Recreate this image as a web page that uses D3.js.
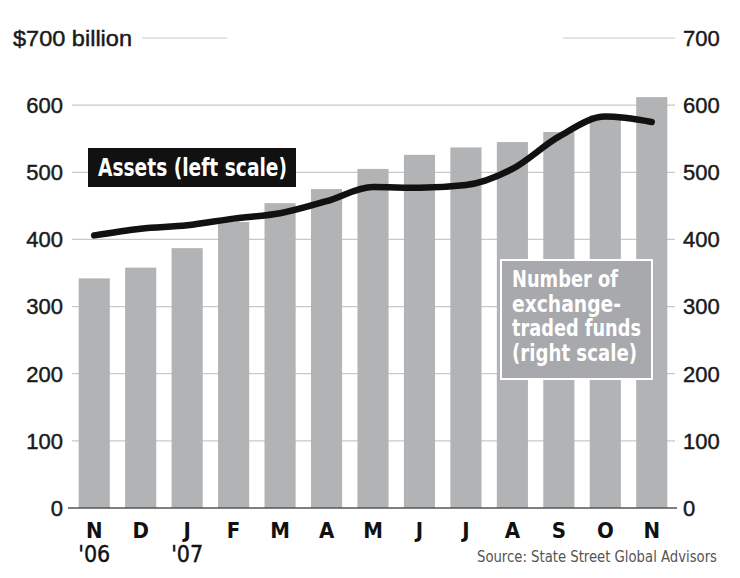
<!DOCTYPE html>
<html>
<head>
<meta charset="utf-8">
<script src="https://cdn.jsdelivr.net/npm/d3@7"></script>
<style>
  body { margin: 0; background: #fff; }
  svg { display: block; }
  .tick-label { font-family: "Liberation Sans", Arial, sans-serif; font-size: 22px; fill: #1a1a1a; stroke: #1a1a1a; stroke-width: 0.45px; }
  .cond { font-family: "Liberation Sans Narrow", "DejaVu Sans Condensed", sans-serif; }
</style>
</head>
<body>
<div id="chart"></div>
<script>
var months = ["N", "D", "J", "F", "M", "A", "M", "J", "J", "A", "S", "O", "N"];
var years = ["'06", "", "'07", "", "", "", "", "", "", "", "", "", ""];
var assets = [342, 358, 387, 426, 454, 475, 505, 526, 537, 545, 560, 585, 612];
var funds = [406, 416, 421, 431, 439, 457, 478, 477, 481, 505, 553, 583, 575];
var leftTicks = [0, 100, 200, 300, 400, 500, 600];
var rightTicks = [0, 100, 200, 300, 400, 500, 600, 700];

var width = 740, height = 578;
var plot = {left: 71, right: 675, top: 38, bottom: 508};

var svg = d3.select("#chart").append("svg")
    .attr("width", width)
    .attr("height", height);

var xScale = d3.scaleBand()
    .domain(d3.range(months.length))
    .range([plot.left, plot.right])
    .paddingInner(0.33)
    .paddingOuter(0.165);

var yLeft = d3.scaleLinear().domain([0, 700]).range([plot.bottom, plot.top]);
var yRight = d3.scaleLinear().domain([0, 700]).range([plot.bottom, plot.top]);

// gridlines
svg.append("g").selectAll("line")
    .data(leftTicks.filter(d => d > 0))
    .enter().append("line")
    .attr("x1", 72).attr("x2", 675)
    .attr("y1", d => yLeft(d)).attr("y2", d => yLeft(d))
    .attr("stroke", "#c9c9c9").attr("stroke-width", 1.2);

// short 700 lines on each side
svg.append("line")
    .attr("x1", 142).attr("x2", 227)
    .attr("y1", yLeft(700)).attr("y2", yLeft(700))
    .attr("stroke", "#c9c9c9").attr("stroke-width", 1.2);
svg.append("line")
    .attr("x1", 563).attr("x2", 675)
    .attr("y1", yRight(700)).attr("y2", yRight(700))
    .attr("stroke", "#c9c9c9").attr("stroke-width", 1.2);

// bars
svg.selectAll(".bar")
    .data(assets)
    .enter().append("rect")
    .attr("class", "bar")
    .attr("x", (d, i) => xScale(i))
    .attr("y", d => yLeft(d))
    .attr("width", xScale.bandwidth())
    .attr("height", d => plot.bottom - yLeft(d))
    .attr("fill", "#b2b3b5");

// zero axis
svg.append("line")
    .attr("x1", 68).attr("x2", 677)
    .attr("y1", yLeft(0)).attr("y2", yLeft(0))
    .attr("stroke", "#555").attr("stroke-width", 1.6);

// funds line
var line = d3.line()
    .x((d, i) => xScale(i) + xScale.bandwidth() / 2)
    .y(d => yRight(d))
    .curve(d3.curveMonotoneX);

svg.append("path")
    .datum(funds)
    .attr("d", line)
    .attr("fill", "none")
    .attr("stroke", "#111")
    .attr("stroke-width", 6.5)
    .attr("stroke-linecap", "round")
    .attr("stroke-linejoin", "round");

// left tick labels
svg.append("g").selectAll("text")
    .data(leftTicks)
    .enter().append("text")
    .attr("class", "tick-label")
    .attr("x", 63)
    .attr("y", d => yLeft(d))
    .attr("dy", "0.36em")
    .attr("text-anchor", "end")
    .text(d => d);

svg.append("text")
    .attr("class", "tick-label")
    .attr("x", 13)
    .attr("y", yLeft(700))
    .attr("dy", "0.36em")
    .attr("textLength", 119)
    .attr("lengthAdjust", "spacingAndGlyphs")
    .text("$700 billion");

// right tick labels
svg.append("g").selectAll("text")
    .data(rightTicks)
    .enter().append("text")
    .attr("class", "tick-label")
    .attr("x", 683)
    .attr("y", d => yRight(d))
    .attr("dy", "0.36em")
    .text(d => d);

// month labels
var xLabels = svg.append("g").selectAll("g")
    .data(months)
    .enter().append("g")
    .attr("transform", (d, i) => `translate(${xScale(i) + xScale.bandwidth() / 2}, 0)`);

xLabels.append("text")
    .attr("class", "cond")
    .attr("y", 538)
    .attr("text-anchor", "middle")
    .attr("font-size", 22)
    .attr("font-weight", "bold")
    .attr("fill", "#111")
    .text(d => d);

xLabels.append("text")
    .attr("class", "cond")
    .attr("y", 562)
    .attr("text-anchor", "middle")
    .attr("font-size", 23)
    .attr("fill", "#111")
    .attr("stroke", "#111")
    .attr("stroke-width", 0.4)
    .text((d, i) => years[i]);

// legend: assets
svg.append("rect")
    .attr("x", 88).attr("y", 148)
    .attr("width", 208).attr("height", 39)
    .attr("fill", "#111");
svg.append("text")
    .attr("class", "cond")
    .attr("x", 98).attr("y", 176)
    .attr("font-size", 25)
    .attr("font-weight", "bold")
    .attr("fill", "#fff")
    .attr("textLength", 189)
    .attr("lengthAdjust", "spacingAndGlyphs")
    .text("Assets (left scale)");

// legend: number of funds
svg.append("rect")
    .attr("x", 501).attr("y", 260)
    .attr("width", 151).attr("height", 119)
    .attr("fill", "#a8a9ac")
    .attr("stroke", "#fff")
    .attr("stroke-width", 2);

var fundLines = ["Number of", "exchange-", "traded funds", "(right scale)"];
var fundWidths = [106, 109, 129, 125];
svg.append("g").selectAll("text")
    .data(fundLines)
    .enter().append("text")
    .attr("class", "cond")
    .attr("x", 512)
    .attr("y", (d, i) => 287 + i * 24.7)
    .attr("font-size", 23)
    .attr("font-weight", "bold")
    .attr("fill", "#fff")
    .attr("textLength", (d, i) => fundWidths[i])
    .attr("lengthAdjust", "spacingAndGlyphs")
    .text(d => d);

// source
svg.append("text")
    .attr("class", "cond")
    .attr("x", 717).attr("y", 562)
    .attr("text-anchor", "end")
    .attr("font-size", 15)
    .attr("fill", "#555")
    .attr("textLength", 240)
    .attr("lengthAdjust", "spacingAndGlyphs")
    .text("Source: State Street Global Advisors");
</script>
</body>
</html>
